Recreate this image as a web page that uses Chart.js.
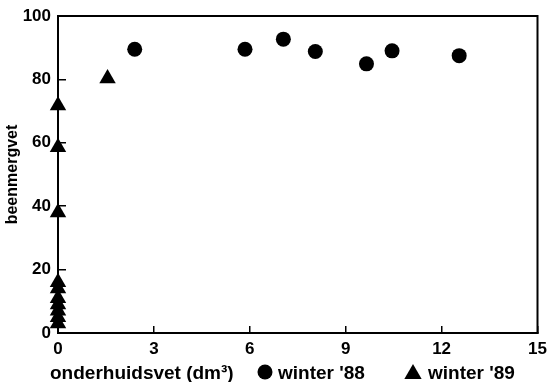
<!DOCTYPE html>
<html>
<head>
<meta charset="utf-8">
<script src="https://cdn.jsdelivr.net/npm/chart.js@4/dist/chart.umd.min.js"></script>
<style>
  html, body { margin: 0; padding: 0; background: #fff; }
  #wrap { width: 547px; height: 382px; }
</style>
</head>
<body>
<div id="wrap"><canvas id="chart" width="547" height="382"></canvas></div>
<script>
// --- Données ---
const xTitle = "onderhuidsvet (dm³)";
const yTitle = "beenmergvet";

const label88 = "winter '88";
const x88 = [2.4, 5.85, 7.05, 8.05, 9.65, 10.45, 12.55];
const y88 = [89.5, 89.5, 92.7, 88.8, 84.9, 89.0, 87.5];

const label89 = "winter '89";
const x89 = [1.55, 0, 0, 0, 0, 0, 0, 0, 0, 0, 0];
const y89 = [80.3, 71.8, 58.6, 38, 16, 14, 11, 9, 7, 5, 3];

const xTicks = [0, 3, 6, 9, 12, 15];
const yTicks = [0, 20, 40, 60, 80, 100];

const fontFam = "'Liberation Sans', Arial, sans-serif";

// cadre + légende en bas (même ligne que le titre de l'axe x)
const framePlugin = {
    id: 'frame',
    afterDraw(chart) {
        const ctx = chart.ctx;
        const a = chart.chartArea;
        ctx.save();
        ctx.strokeStyle = '#000';
        ctx.lineWidth = 2;
        ctx.beginPath();
        ctx.moveTo(a.left, a.top);
        ctx.lineTo(a.right, a.top);
        ctx.lineTo(a.right, a.bottom);
        ctx.stroke();

        // titre de l'axe x + légende
        const baseY = 379;
        ctx.fillStyle = '#000';
        ctx.font = 'bold 19px ' + fontFam;
        ctx.textBaseline = 'alphabetic';
        ctx.textAlign = 'left';
        ctx.fillText(xTitle, 50, baseY);
        const items = [
            { ds: chart.data.datasets[0], mx: 265, my: 372, r: 7.5, tx: 278 },
            { ds: chart.data.datasets[1], mx: 413, my: 374, r: 10, tx: 428 }
        ];
        items.forEach(it => {
            Chart.helpers.drawPoint(ctx, {
                pointStyle: it.ds.pointStyle,
                radius: it.r,
                rotation: 0,
                borderWidth: 0
            }, it.mx, it.my);
            ctx.fillText(it.ds.label, it.tx, baseY);
        });
        ctx.restore();
    }
};

new Chart(document.getElementById("chart").getContext("2d"), {
    type: 'scatter',
    data: {
        datasets: [{
            label: label88,
            data: x88.map((x, i) => ({ x: x, y: y88[i] })),
            pointStyle: 'circle',
            pointRadius: 7.5,
            backgroundColor: '#000',
            borderColor: '#000',
            borderWidth: 0,
            clip: false
        }, {
            label: label89,
            data: x89.map((x, i) => ({ x: x, y: y89[i] })),
            pointStyle: 'triangle',
            pointRadius: 9.5,
            backgroundColor: '#000',
            borderColor: '#000',
            borderWidth: 0,
            clip: false
        }]
    },
    options: {
        responsive: false,
        animation: false,
        layout: { padding: { top: 16, right: 9, left: 0, bottom: 0 } },
        plugins: {
            legend: { display: false },
            tooltip: { enabled: false }
        },
        scales: {
            x: {
                type: 'linear',
                min: 0,
                max: 15,
                afterBuildTicks: s => { s.ticks = xTicks.map(v => ({ value: v })); },
                afterFit: s => { s.height = 49; s.paddingRight = 0; s.paddingLeft = 0; },
                ticks: {
                    color: '#000',
                    padding: 13,
                    font: { family: fontFam, size: 17, weight: 'bold' }
                },
                grid: { drawOnChartArea: false, tickLength: -7, color: '#000', lineWidth: 1.5 },
                border: { color: '#000', width: 2 }
            },
            y: {
                min: 0,
                max: 100,
                afterBuildTicks: s => { s.ticks = yTicks.map(v => ({ value: v })); },
                afterFit: s => { s.width = 58; s.paddingTop = 0; s.paddingBottom = 0; },
                ticks: {
                    color: '#000',
                    padding: 15,
                    font: { family: fontFam, size: 17, weight: 'bold' }
                },
                grid: { drawOnChartArea: false, tickLength: -8, color: '#000', lineWidth: 1.5 },
                border: { color: '#000', width: 2 },
                title: {
                    display: true,
                    text: yTitle,
                    color: '#000',
                    padding: { top: 3, bottom: 0 },
                    font: { family: fontFam, size: 16, weight: 'bold' }
                }
            }
        }
    },
    plugins: [framePlugin]
});
</script>
</body>
</html>
